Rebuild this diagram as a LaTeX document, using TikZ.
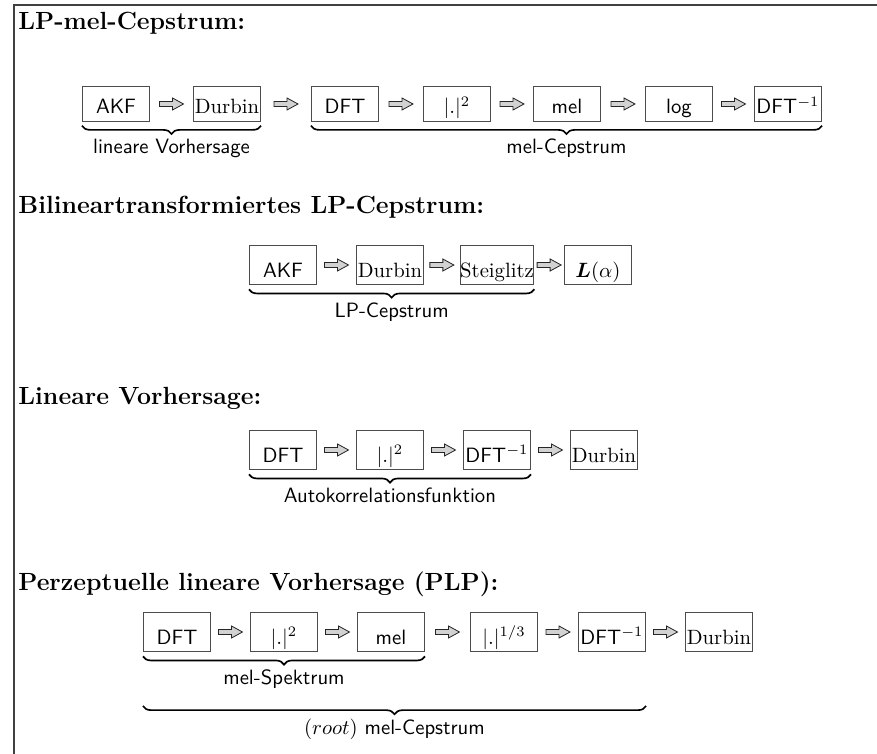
\documentclass[tikz,border=0pt]{standalone}
\usepackage{amsmath}
\usetikzlibrary{calc,decorations.pathreplacing}

\tikzset{
  box/.style={draw=black!70, line width=0.5pt, inner sep=0pt, minimum width=32.4pt,
    text height=13pt, text depth=3.5pt, align=center},
  tall/.style={text height=15.5pt},
  fat/.style={draw=black!85, fill=gray!35, line width=0.4pt,
    to path={($(\tikztostart.east)!.5!(\tikztotarget.west)$) +(-12,2.5) -- +(1,2.5) -- +(1,6)
      -- +(12,0) -- +(1,-6) -- +(1,-2.5) -- +(-12,-2.5) -- cycle}},
  brc/.style={decorate, decoration={brace, mirror, amplitude=4pt}, line width=0.8pt},
  lbl/.style={font=\sffamily, inner sep=1pt},
  title/.style={font=\large\bfseries, anchor=base west, inner sep=0pt}
}

\begin{document}
\begin{tikzpicture}[x=0.483pt, y=-0.483pt]
\useasboundingbox (0,0) rectangle (877,754);
\draw[black!75, line width=1pt] (877,5) -| (14,754);

% LP-mel-Cepstrum
\node[title](T1) at (18,30){LP-mel-Cepstrum:};
\node[box](A1) at (116,104){\sffamily AKF};
\node[box](A2) at (227,104){Durbin};
\node[box](A3) at (345,104){\sffamily DFT};
\node[box](A4) at (457,104){$|.|^2$};
\node[box](A5) at (567,104){\sffamily mel};
\node[box](A6) at (679,104){\sffamily log};
\node[box](A7) at (788,104){\textsf{DFT}$^{-1}$};
\draw[fat](A1) to (A2);
\draw[fat](A2) to (A3);
\draw[fat](A3) to (A4);
\draw[fat](A4) to (A5);
\draw[fat](A5) to (A6);
\draw[fat](A6) to (A7);
\draw[brc]([yshift=-2pt]A1.south west) -- ([yshift=-2pt]A2.south east)
  node[midway, below=5pt, lbl](LA){lineare Vorhersage};
\draw[brc]([yshift=-2pt]A3.south west) -- ([yshift=-2pt]A7.south east)
  node[midway, below=5pt, lbl](LB){mel-Cepstrum};

% Bilineartransformiertes LP-Cepstrum
\node[title](T2) at (18,214){Bilineartransformiertes LP-Cepstrum:};
\node[box, tall](B1) at (283,265){\sffamily AKF};
\node[box, tall](B2) at (390,265){Durbin};
\node[box, tall](B3) at (497,265){Steiglitz};
\node[box, tall](B4) at (598,265){$\boldsymbol{L}(\alpha)$};
\draw[fat](B1) to (B2);
\draw[fat](B2) to (B3);
\draw[fat](B3) to (B4);
\draw[brc]([yshift=-2pt]B1.south west) -- ([yshift=-2pt]B3.south east)
  node[midway, below=5pt, lbl](LC){LP-Cepstrum};

% Lineare Vorhersage
\node[title](T3) at (18,405){Lineare Vorhersage:};
\node[box, tall](C1) at (283,450){\sffamily DFT};
\node[box, tall](C2) at (390,450){$|.|^2$};
\node[box, tall](C3) at (497,450){\textsf{DFT}$^{-1}$};
\node[box, tall](C4) at (604,450){Durbin};
\draw[fat](C1) to (C2);
\draw[fat](C2) to (C3);
\draw[fat](C3) to (C4);
\draw[brc]([yshift=-2pt]C1.south west) -- ([yshift=-2pt]C3.south east)
  node[midway, below=5pt, lbl](LD){Autokorrelationsfunktion};

% PLP
\node[title](T4) at (18,590){Perzeptuelle lineare Vorhersage (PLP):};
\node[box, tall](D1) at (177,632){\sffamily DFT};
\node[box, tall](D2) at (284,632){$|.|^2$};
\node[box, tall](D3) at (391,632){\sffamily mel};
\node[box, tall](D4) at (504,632){$|.|^{1/3}$};
\node[box, tall](D5) at (612,632){\textsf{DFT}$^{-1}$};
\node[box, tall](D6) at (719,632){Durbin};
\draw[fat](D1) to (D2);
\draw[fat](D2) to (D3);
\draw[fat](D3) to (D4);
\draw[fat](D4) to (D5);
\draw[fat](D5) to (D6);
\draw[brc]([yshift=-2pt]D1.south west) -- ([yshift=-2pt]D3.south east)
  node[midway, below=5pt, lbl](LE){mel-Spektrum};
\draw[brc]([yshift=-26pt]D1.south west) -- ([yshift=-26pt]D5.south east)
  node[midway, below=5pt, lbl](LF){$(root)$ mel-Cepstrum};
\end{tikzpicture}
\end{document}
